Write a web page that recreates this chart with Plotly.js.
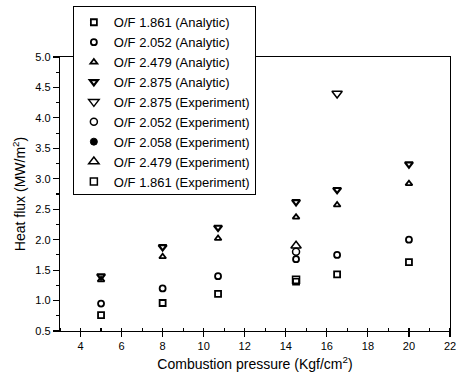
<!DOCTYPE html>
<html>
<head>
<meta charset="utf-8">
<script src="https://cdn.plot.ly/plotly-3.0.1.min.js"></script>
<style>html,body{margin:0;padding:0;background:#fff;}#chart{width:459px;height:378px;}</style>
</head>
<body>
<div id="chart"></div>
<script>
// Analytic series (pressure in Kgf/cm2, heat flux in MW/m2)
const pressureAnalytic = [5, 8, 10.7, 14.5, 16.5, 20];
const analytic1861 = [0.76, 0.96, 1.11, 1.31, 1.43, 1.63];
const analytic2052 = [0.95, 1.20, 1.40, 1.68, 1.75, 2.00];
const analytic2479 = [1.34, 1.72, 2.02, 2.37, 2.57, 2.92];
const analytic2875 = [1.40, 1.88, 2.20, 2.62, 2.82, 3.24];

// Experiment series
const pressureExp2875 = [16.5];
const exp2875 = [4.40];
const pressureExp2052 = [14.5];
const exp2052 = [1.80];
const pressureExp2058 = [14.5];
const exp2058 = [null]; // no visible point in the reference (legend entry only)
const pressureExp2479 = [14.5];
const exp2479 = [1.90];
const pressureExp1861 = [14.5];
const exp1861 = [1.34];

const names = [
  'O/F 1.861 (Analytic)', 'O/F 2.052 (Analytic)', 'O/F 2.479 (Analytic)', 'O/F 2.875 (Analytic)',
  'O/F 2.875 (Experiment)', 'O/F 2.052 (Experiment)', 'O/F 2.058 (Experiment)',
  'O/F 2.479 (Experiment)', 'O/F 1.861 (Experiment)'
];

function tr(x, y, name, symbol, size, lw) {
  return {
    x: x, y: y, name: name, type: 'scatter', mode: 'markers',
    marker: {symbol: symbol, size: size, color: '#000', line: {color: '#000', width: lw}},
    cliponaxis: false
  };
}

const data = [
  tr(pressureAnalytic, analytic1861, names[0], 'square-open', 6, 1.8),
  tr(pressureAnalytic, analytic2052, names[1], 'circle-open', 6, 1.8),
  tr(pressureAnalytic, analytic2479, names[2], 'triangle-up-open', 6, 1.8),
  tr(pressureAnalytic, analytic2875, names[3], 'triangle-down-open', 7, 2.2),
  tr(pressureExp2875, exp2875, names[4], 'triangle-down-open', 9, 1.5),
  tr(pressureExp2052, exp2052, names[5], 'circle-open', 7, 1.5),
  tr(pressureExp2058, exp2058, names[6], 'circle', 7, 1),
  tr(pressureExp2479, exp2479, names[7], 'triangle-up-open', 9, 1.5),
  tr(pressureExp1861, exp1861, names[8], 'square-open', 7, 1.5)
];

const font = 'Arial, "Liberation Sans", sans-serif';
const layout = {
  width: 459, height: 378,
  margin: {l: 60, r: 9, t: 57, b: 47, pad: 0, autoexpand: false},
  paper_bgcolor: '#fff', plot_bgcolor: '#fff',
  font: {family: font, color: '#000', size: 11},
  showlegend: true,
  legend: {
    x: 0.033, y: 1.185, xanchor: 'left', yanchor: 'top',
    bgcolor: '#fff', bordercolor: '#000', borderwidth: 1,
    font: {family: font, size: 13, color: '#000'},
    tracegroupgap: 0
  },
  xaxis: {
    range: [3, 22], tickmode: 'linear', tick0: 4, dtick: 2,
    showgrid: false, zeroline: false,
    showline: true, linecolor: '#000', linewidth: 1.2, mirror: true,
    ticks: 'outside', ticklen: 5, tickwidth: 1.2, tickcolor: '#000',
    minor: {ticks: 'inside', dtick: 1, tick0: 4, ticklen: 3, tickcolor: '#000', showgrid: false},
    tickfont: {family: font, size: 11},
    title: {text: 'Combustion pressure (Kgf/cm<sup>2</sup>)', font: {family: font, size: 14}, standoff: 7}
  },
  yaxis: {
    range: [0.5, 5.0], tickmode: 'linear', tick0: 0.5, dtick: 0.5, tickformat: '.1f',
    showgrid: false, zeroline: false,
    showline: true, linecolor: '#000', linewidth: 1.2, mirror: true,
    ticks: 'outside', ticklen: 6, tickwidth: 1.2, tickcolor: '#000',
    minor: {ticks: 'outside', dtick: 0.25, ticklen: 3, tickcolor: '#000', showgrid: false},
    tickfont: {family: font, size: 11},
    title: {text: 'Heat flux (MW/m<sup>2</sup>)', font: {family: font, size: 14}, standoff: 6}
  }
};

Plotly.newPlot('chart', data, layout, {displayModeBar: false, staticPlot: true});
</script>
</body>
</html>
